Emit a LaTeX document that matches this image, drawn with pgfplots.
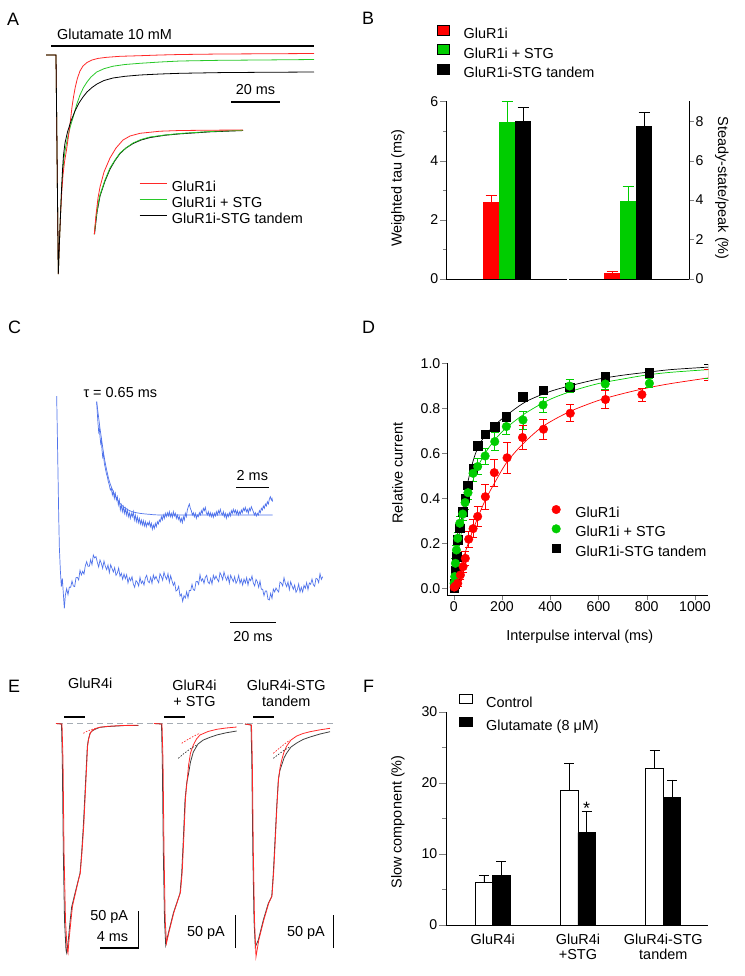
\documentclass[border=0pt]{standalone}
\usepackage{fontspec}
\setmainfont{Liberation Sans}
\usepackage{pgfplots}
\pgfplotsset{compat=1.18}
\definecolor{bred}{RGB}{255,0,0}
\definecolor{bgreen}{RGB}{0,205,0}
\definecolor{tred}{RGB}{255,40,40}
\definecolor{tgreen}{RGB}{40,200,40}
\definecolor{cblue}{RGB}{80,115,235}
\definecolor{dgray}{RGB}{165,172,180}
\pgfplotsset{
  every axis/.append style={font=\fontsize{14.5}{16.5}\selectfont, scale only axis,
    /pgf/number format/assume math mode=true, /pgf/number format/1000 sep={}},
  tick label style={font=\fontsize{14.2}{16}\selectfont, inner sep=1.5bp},
  trace/.style={axis lines=none, clip=false, y dir=reverse, xtick=\empty, ytick=\empty},
  leg/.style={legend style={draw=none, fill=none, inner sep=0pt, legend cell align=left,
    nodes={inner sep=1bp, text height=10bp, text depth=3bp}, font=\fontsize{14.5}{16.5}\selectfont}},
}
\begin{document}
\begin{tikzpicture}
\path[use as bounding box] (0,0) rectangle (745bp,-976bp);
% panel letters
\begin{scope}[every node/.style={font=\fontsize{18}{20}\selectfont, anchor=base west, inner sep=0pt}]
\node at (7bp,-25bp) {A};
\node at (362bp,-24bp) {B};
\node at (8bp,-333.5bp) {C};
\node at (362bp,-333.5bp) {D};
\node at (8bp,-692bp) {E};
\node at (363bp,-692bp) {F};
\end{scope}

% ================= A =================
\begin{axis}[trace, leg, at={(0bp,-300bp)}, anchor=south west, width=340bp, height=300bp,
  xmin=0, xmax=340, ymin=0, ymax=300,
  legend style={at={(axis cs:139,180.5)}, anchor=north west, row sep=1bp, column sep=4bp},
  legend image code/.code={\draw[#1] (0bp,4.5bp) -- (27bp,4.5bp);}]
\addlegendimage{tred, line width=0.8bp}\addlegendentry{GluR1i}
\addlegendimage{tgreen, line width=0.8bp}\addlegendentry{GluR1i + STG}
\addlegendimage{black, line width=0.8bp}\addlegendentry{GluR1i-STG tandem}
\addplot[forget plot, tgreen, line width=0.8bp] coordinates {(46,55) (56,55) (58.3,274) (59.5,240) (60.5,215) (61.5,192) (62.7,172) (64,158) (65.5,148) (68,136) (70.5,126) (73.3,116.7) (76.7,104.5) (80,95) (83.5,87.5) (87,82) (91,77) (96.7,72) (104,68.7) (113,66.2) (125,64.5) (140,63.3) (160,62) (180,61) (220,60.3) (260,60) (314,59.5)};
\addplot[forget plot, tred, line width=0.8bp] coordinates {(46,55) (56,55) (58.3,274) (59.5,240) (60.5,215) (61.7,193) (63,175) (64.5,162) (66.5,150) (68.5,136) (70.5,120) (72,107) (73.5,97) (75.3,87) (77.5,78) (80,71) (83,66) (87,62.5) (92,60) (98,58.4) (106.7,57.3) (120,56.3) (140,55.7) (160,55) (180,54.5) (220,54) (260,53.8) (314,53.5)};
\addplot[forget plot, black, line width=0.8bp] coordinates {(46,55) (56,55) (58.3,274) (59.5,240) (60.5,215) (61.5,190) (62.5,170) (63.5,155) (65,143) (67.5,132) (71,121) (75,111) (79,103) (83,97) (87,92) (92,87.5) (97,84) (104,80.5) (113,78) (125,76.3) (140,75) (160,74) (180,73.3) (220,72.6) (260,72.3) (314,72)};
% normalized inset
\addplot[forget plot, black, line width=0.9bp] coordinates {(94.5,234) (97,212) (100,196) (105,181) (110,169) (115,160.5) (120,153.5) (126,148) (133,143.5) (141,140) (150,137.5) (165,135.2) (180,133.8) (210,131.8) (243,130.5)};
\addplot[forget plot, tgreen, line width=0.8bp] coordinates {(94.3,234.3) (96,218) (98,205) (100,195) (105,180) (110,168) (115,160) (120,153) (126,148) (133,143) (141,139.5) (150,137) (165,135) (180,133.5) (210,131.5) (243,130.3)};
\addplot[forget plot, tred, line width=0.8bp] coordinates {(94.3,234.3) (96,215) (98,198) (100,187) (104,172) (110,158) (116,148) (123,140) (130,136) (140,133.3) (160,131.2) (180,130.5) (210,130.2) (243,130)};
\draw[line width=2bp] (axis cs:51,46) -- (axis cs:314,46);
\node[anchor=base west, inner sep=0pt] at (axis cs:57,39) {Glutamate 10 mM};
\draw[line width=1.5bp] (axis cs:231,102) -- (axis cs:280,102);
\node[anchor=base, inner sep=0pt] at (axis cs:255.5,94) {20 ms};
\end{axis}

% ================= B (left) =================
\begin{axis}[leg, at={(446bp,-279bp)}, anchor=south west, width=121bp, height=177.6bp,
  xmin=-61, xmax=60, ymin=0, ymax=6, axis x line*=bottom, axis y line*=left,
  xtick=\empty, ytick={0,2,4,6}, minor ytick={1,3,5}, tick align=outside,
  major tick length=6bp, minor tick length=3bp,
  ybar, bar width=16bp,
  ylabel={Weighted tau (ms)}, ylabel style={at={(axis description cs:-0.397,0.512)}, anchor=center},
  legend style={at={(-0.074,1.43)}, anchor=north west, row sep=1.5bp, column sep=13bp},
  legend image code/.code={\fill[#1] (0bp,0bp) rectangle (12bp,10bp);}]
\addlegendimage{fill=bred}\addlegendentry{GluR1i}
\addlegendimage{fill=bgreen}\addlegendentry{GluR1i + STG}
\addlegendimage{fill=black}\addlegendentry{GluR1i-STG tandem}
\addplot[forget plot, fill=bred, draw=none, bar shift=-16bp, error bars/.cd, y dir=plus, y explicit,
  error bar style={bred, line width=0.8bp}, error mark options={rotate=90, bred, mark size=5.5bp, line width=0.8bp}]
  coordinates {(0,2.6) +- (0,0.22)};
\addplot[forget plot, fill=bgreen, draw=none, bar shift=0bp, error bars/.cd, y dir=plus, y explicit,
  error bar style={bgreen, line width=0.8bp}, error mark options={rotate=90, bgreen, mark size=5.5bp, line width=0.8bp}]
  coordinates {(0,5.3) +- (0,0.7)};
\addplot[forget plot, fill=black, draw=none, bar shift=16bp, error bars/.cd, y dir=plus, y explicit,
  error bar style={black, line width=0.8bp}, error mark options={rotate=90, black, mark size=5.5bp, line width=0.8bp}]
  coordinates {(0,5.35) +- (0,0.45)};
\end{axis}

% ================= B (right) =================
\begin{axis}[at={(569bp,-279bp)}, anchor=south west, width=120bp, height=177.6bp,
  xmin=-59, xmax=61, ymin=0, ymax=9, axis x line*=bottom, axis y line*=right,
  xtick=\empty, ytick={0,2,4,6,8}, tick align=outside, major tick length=5bp,
  ybar, bar width=16bp,
  ylabel={Steady-state/peak (\%)}, ylabel style={at={(axis description cs:1.273,0.512)}, anchor=center, rotate=180}]
\addplot[fill=bred, draw=none, bar shift=-16bp, error bars/.cd, y dir=plus, y explicit,
  error bar style={bred, line width=0.8bp}, error mark options={rotate=90, bred, mark size=5.5bp, line width=0.8bp}]
  coordinates {(0,0.28) +- (0,0.13)};
\addplot[fill=bgreen, draw=none, bar shift=0bp, error bars/.cd, y dir=plus, y explicit,
  error bar style={bgreen, line width=0.8bp}, error mark options={rotate=90, bgreen, mark size=5.5bp, line width=0.8bp}]
  coordinates {(0,3.95) +- (0,0.72)};
\addplot[fill=black, draw=none, bar shift=16bp, error bars/.cd, y dir=plus, y explicit,
  error bar style={black, line width=0.8bp}, error mark options={rotate=90, black, mark size=5.5bp, line width=0.8bp}]
  coordinates {(0,7.75) +- (0,0.67)};
\end{axis}

% ================= C =================
\begin{axis}[trace, at={(0bp,-630bp)}, anchor=south west, width=370bp, height=330bp,
  xmin=0, xmax=1110, ymin=0, ymax=990]
\addplot[cblue, line width=0.7bp] coordinates {(170,288) (172,400) (174,520) (176,640) (178,740) (181,810) (184,860) (187,835) (190,880) (193,925) (196,886) (200,866) (204,884) (208,861) (212,862) (216,843) (220,858) (224,860) (228,833) (232,832) (236,840) (240,811) (244,825) (248,814) (252,822) (256,797) (260,785) (264,799) (268,799) (272,779) (276,794) (280,765) (284,774) (288,770) (292,787) (296,801) (300,780) (304,790) (308,805) (312,783) (316,799) (320,809) (324,795) (328,818) (332,794) (336,805) (340,816) (344,803) (348,826) (352,819) (356,804) (360,829) (364,820) (368,838) (372,822) (376,836) (380,824) (384,849) (388,833) (392,842) (396,830) (400,852) (404,862) (408,842) (412,847) (416,858) (420,832) (424,850) (428,843) (432,855) (436,834) (440,826) (444,844) (448,848) (452,832) (456,850) (460,825) (464,838) (468,829) (472,840) (476,848) (480,821) (484,829) (488,841) (492,817) (496,830) (500,838) (504,821) (508,847) (512,827) (516,842) (520,856) (524,847) (528,873) (532,870) (536,859) (540,888) (544,882) (548,904) (552,887) (556,894) (560,875) (564,893) (568,871) (572,872) (576,853) (580,869) (584,871) (588,845) (592,844) (596,853) (600,824) (604,843) (608,836) (612,850) (616,832) (620,826) (624,846) (628,851) (632,835) (636,852) (640,826) (644,838) (648,828) (652,838) (656,845) (660,818) (664,826) (668,839) (672,816) (676,831) (680,841) (684,827) (688,850) (692,826) (696,836) (700,845) (704,830) (708,850) (712,842) (716,826) (720,850) (724,838) (728,855) (732,837) (736,849) (740,833) (744,855) (748,836) (752,842) (756,828) (760,849) (764,858) (768,838) (772,845) (776,862) (780,843) (784,868) (788,868) (792,887) (796,873) (800,873) (804,898) (808,900) (812,880) (816,895) (820,867) (824,876) (828,864) (832,871) (836,876) (840,846) (844,849) (848,858) (852,833) (856,850) (860,860) (864,846) (868,869) (872,845) (876,857) (880,868) (884,855) (888,877) (892,869) (896,852) (900,876) (904,862) (908,876) (912,856) (916,865) (920,848) (924,869) (928,849) (932,853) (936,837) (940,854) (944,859) (948,835) (952,837) (956,848) (960,821) (964,838) (968,830)};
\addplot[cblue, line width=0.7bp] coordinates {(290,305) (292,340) (294,370) (296,395) (298,385) (300,410) (302,430) (304,420) (306,450) (308,470) (310,460) (313,490) (316,505) (319,520) (322,530) (325,545) (328,555) (331,570) (334,565) (337,585) (340,575) (343,595) (346,580) (349,600) (352,590) (355,615) (358,600) (361,630) (364,615) (367,635) (370,620) (373,640) (376,625) (379,645) (382,630) (385,650) (388,638) (391,655) (394,640) (397,650) (400,635) (403,660) (406,645) (409,665) (412,650) (415,668) (418,655) (421,672) (424,660) (427,675) (430,662) (433,678) (436,665) (439,680) (442,668) (445,675) (448,665) (451,680) (454,670) (457,688) (460,675) (463,685) (466,670) (469,680) (472,665) (475,672) (478,660) (481,665) (484,650) (487,660) (490,645) (493,655) (496,640) (499,650) (502,638) (505,648) (508,635) (511,650) (514,640) (517,652) (520,635) (523,648) (526,640) (529,655) (532,645) (535,658) (538,650) (541,665) (544,655) (547,668) (550,650) (553,660) (556,640) (559,650) (562,630) (565,620) (568,612) (571,625) (574,632) (577,645) (580,638) (583,650) (586,640) (589,655) (592,645) (595,650) (598,638) (601,645) (604,632) (607,640) (610,625) (613,632) (616,622) (619,638) (622,645) (625,635) (628,648) (631,638) (634,650) (637,640) (640,652) (643,640) (646,648) (649,635) (652,645) (655,632) (658,640) (661,628) (664,640) (667,645) (670,635) (673,650) (676,640) (679,655) (682,642) (685,650) (688,638) (691,648) (694,632) (697,640) (700,628) (703,638) (706,630) (709,642) (712,632) (715,645) (718,635) (721,642) (724,630) (727,638) (730,625) (733,632) (736,622) (739,635) (742,628) (745,640) (748,625) (751,632) (754,620) (757,628) (760,635) (763,645) (766,638) (769,648) (772,640) (775,645) (778,632) (781,638) (784,625) (787,630) (790,618) (793,625) (796,612) (799,618) (802,605) (805,612) (808,598) (811,590) (814,600) (816,595) (818,605)};
\addplot[cblue, line width=0.7bp, smooth] coordinates {(290,305) (295,345) (300,385) (305,420) (310,455) (315,485) (320,510) (325,532) (330,550) (340,575) (350,595) (360,610) (370,620) (385,630) (400,636) (420,640) (450,643) (500,645) (818,645)};
\node[anchor=base west, inner sep=0pt] at (axis cs:250,293) {τ = 0.65 ms};
\draw[line width=1.5bp] (axis cs:708,562) -- (axis cs:808,562);
\node[anchor=base, inner sep=0pt] at (axis cs:757,540) {2 ms};
\draw[line width=1.5bp] (axis cs:690,968) -- (axis cs:828,968);
\node[anchor=base, inner sep=0pt] at (axis cs:759,1023) {20 ms};
\end{axis}

% ================= D =================
\begin{axis}[leg, at={(447bp,-595bp)}, anchor=south west, width=261bp, height=231.7bp,
  xmin=-28, xmax=1054, ymin=-0.03, ymax=1.0, axis x line*=bottom, axis y line*=left,
  tick align=outside, major tick length=5bp,
  xtick={0,200,...,1000}, ytick={0,0.2,0.4,0.6,0.8,1.0},
  yticklabel style={/pgf/number format/.cd, fixed, fixed zerofill, precision=1},
  xlabel={Interpulse interval (ms)}, xlabel style={at={(axis description cs:0.509,-0.181)}, anchor=center},
  ylabel={Relative current}, ylabel style={at={(axis description cs:-0.19,0.527)}, anchor=center},
  legend style={at={(axis cs:406,0.37)}, anchor=north west, row sep=3bp, column sep=14bp},
  legend image code/.code={\draw[#1] plot coordinates {(4.3bp,4.5bp)};}]
\addlegendimage{mark=*, mark size=4.3bp, mark options={draw=bred, fill=bred}}\addlegendentry{GluR1i}
\addlegendimage{mark=*, mark size=4.3bp, mark options={draw=bgreen, fill=bgreen}}\addlegendentry{GluR1i + STG}
\addlegendimage{mark=square*, mark size=4.3bp, mark options={draw=black, fill=black}}\addlegendentry{GluR1i-STG tandem}
% fits
\addplot[forget plot, black, line width=0.7bp, smooth] coordinates {(0,0) (10,0.12) (20,0.22) (40,0.37) (60,0.48) (80,0.565) (100,0.625) (130,0.68) (170,0.725) (220,0.77) (300,0.83) (400,0.875) (500,0.905) (600,0.93) (700,0.947) (800,0.96) (900,0.972) (1055,0.983)};
\addplot[forget plot, bgreen, line width=0.7bp, smooth] coordinates {(0,0) (10,0.09) (20,0.17) (40,0.3) (60,0.40) (80,0.48) (100,0.54) (130,0.6) (170,0.66) (220,0.715) (300,0.78) (400,0.84) (500,0.88) (600,0.91) (700,0.93) (800,0.948) (900,0.96) (1055,0.972)};
\addplot[forget plot, bred, line width=0.7bp, smooth] coordinates {(0,0) (20,0.07) (40,0.135) (60,0.2) (80,0.26) (100,0.315) (130,0.39) (170,0.47) (220,0.56) (285,0.64) (370,0.72) (480,0.785) (600,0.835) (700,0.865) (800,0.89) (900,0.91) (1055,0.935)};
% points
\addplot[forget plot, only marks, mark=square*, mark size=4.3bp, mark options={draw=black, fill=black},
  error bars/.cd, y dir=both, y explicit, error bar style={black, line width=0.7bp}, error mark options={rotate=90, black, mark size=4bp, line width=0.7bp}]
  table[y error index=2] {
1 0.0 0.01
3 0.02 0.01
7 0.08 0.015
11 0.14 0.015
16.5 0.215 0.015
25 0.267 0.015
37 0.341 0.015
47 0.40 0.015
59 0.459 0.015
80 0.529 0.02
99 0.633 0.015
130 0.684 0.015
170 0.719 0.015
218 0.763 0.015
287 0.852 0.015
370 0.881 0.012
480 0.893 0.015
628 0.94 0.012
811 0.959 0.01
1055 0.985 0.01
};
\addplot[forget plot, only marks, mark=*, mark size=4.3bp, mark options={draw=bgreen, fill=bgreen},
  error bars/.cd, y dir=both, y explicit, error bar style={bgreen, line width=0.7bp}, error mark options={rotate=90, bgreen, mark size=4bp, line width=0.7bp}]
  table[y error index=2] {
1.4 0.022 0.01
4 0.052 0.015
7 0.111 0.02
11 0.17 0.02
16.5 0.222 0.025
25 0.289 0.03
37 0.33 0.03
47 0.381 0.03
59 0.425 0.03
80 0.511 0.035
99 0.541 0.035
130 0.588 0.035
170 0.652 0.04
218 0.719 0.035
287 0.748 0.04
370 0.815 0.035
480 0.899 0.03
628 0.908 0.025
811 0.911 0.02
1055 0.953 0.02
};
\addplot[forget plot, only marks, mark=*, mark size=4.3bp, mark options={draw=bred, fill=bred},
  error bars/.cd, y dir=both, y explicit, error bar style={bred, line width=0.7bp}, error mark options={rotate=90, bred, mark size=4bp, line width=0.7bp}]
  table[y error index=2] {
2 0.005 0.01
7 0.01 0.012
16.5 0.022 0.015
27.6 0.059 0.02
38.6 0.096 0.025
48 0.133 0.03
62 0.218 0.035
80 0.265 0.04
99 0.319 0.045
131 0.407 0.055
168 0.514 0.06
221 0.580 0.068
285 0.670 0.052
372 0.707 0.045
483 0.778 0.038
629 0.839 0.04
780 0.861 0.028
1055 0.950 0.025
};
\end{axis}

% ================= E =================
\begin{axis}[trace, at={(0bp,-976bp)}, anchor=south west, width=370bp, height=336bp,
  xmin=0, xmax=370, ymin=640, ymax=976]
\addplot[dgray, line width=0.8bp, dash pattern=on 6bp off 4bp] coordinates {(57,723.3) (333,723.3)};
% trace 1
\addplot[black!75, line width=0.8bp] coordinates {(56,723.5) (61.5,724) (62.3,760) (63.3,850) (64.5,920) (66,950) (66.7,953) (68.3,940) (70,922) (71.7,906.7) (75,893.3) (78.3,880) (80,873.3) (81.5,855) (83.3,826.7) (86,773.3) (87.3,746.7) (88.3,740) (90,733.3) (92,731) (95,729.3) (100,727.3) (108,726.5) (116.7,726) (125,725.5) (138.3,725.5)};
\addplot[tred, line width=0.8bp] coordinates {(56,723.5) (62,724) (63,760) (64,850) (65.5,920) (67,948) (68,953) (69,940) (71,920) (72.5,906) (75.5,893) (78.5,880) (80.3,873) (82,852) (83.8,825) (86.3,773) (87.6,746) (88.6,739) (90.5,732.5) (93,730) (96,728.3) (100,727.2) (108,726.3) (116.7,725.8) (125,725.4) (138.3,725.3)};
\addplot[tred, line width=0.7bp, dash pattern=on 1.5bp off 1.5bp] coordinates {(83.3,733.3) (87,731.3) (91,729.7) (95,728.5)};
% trace 2
\addplot[black!75, line width=0.8bp] coordinates {(154,723.5) (161.5,724) (162.3,760) (163.3,850) (164.5,920) (165.7,945) (168.3,933.3) (173.3,913.3) (180,893.3) (181.7,873.3) (183.3,840) (185,800) (186.7,783) (188.3,775) (190.5,762) (193.3,752) (198,744) (203.3,740) (210,737.3) (216.7,735) (226,732.8) (236.7,731)};
\addplot[tred, line width=0.8bp] coordinates {(154,723.5) (162,724) (163,760) (164,850) (165.2,920) (166.5,943) (169,932) (174,912) (180.5,892) (182.2,872) (183.8,838) (185.5,798) (187,782) (188.6,765) (190.5,753) (193.3,745) (196.5,739) (200,735) (208,731.5) (216.7,729.3) (226,728) (236.7,727)};
\addplot[tred, line width=0.7bp, dash pattern=on 1.5bp off 1.5bp] coordinates {(181.7,743.3) (187,740) (193.5,736.3) (200,733)};
\addplot[black!80, line width=0.7bp, dash pattern=on 1.5bp off 1.5bp] coordinates {(178.3,758.3) (184,753.5) (190,749) (196.7,745)};
% trace 3
\addplot[black!75, line width=0.8bp] coordinates {(245,724) (251,725) (251.8,760) (252.8,850) (254,920) (255.3,947) (258.3,940) (263.3,920) (268.3,903.3) (271.7,896.7) (273.3,873.3) (275,840) (276.7,806.7) (278.3,780) (280,770) (281.7,765) (284,758) (286.7,753) (291,747) (296.7,743) (303,739.5) (310,737) (320,734) (330,731.7)};
\addplot[tred, line width=0.8bp] coordinates {(245,724) (251.5,725) (252.3,760) (253.3,850) (254.5,920) (256,956.7) (258.8,940) (263.8,920) (268.8,903) (272,896) (273.7,872) (275.4,838) (277,805) (278.6,778) (280.3,766) (282,759) (284,752) (286.7,746) (291,740) (296.7,736) (303,733.5) (310,731.7) (320,729.8) (330,728.3)};
\addplot[tred, line width=0.7bp, dash pattern=on 1.5bp off 1.5bp] coordinates {(273.3,753.3) (279,748.5) (284.5,744) (290,740)};
\addplot[black!80, line width=0.7bp, dash pattern=on 1.5bp off 1.5bp] coordinates {(273.3,758.3) (279,754) (284.5,750) (290,746.7)};
% application bars
\draw[line width=2bp] (axis cs:64,716.7) -- (axis cs:85,716.7);
\draw[line width=2bp] (axis cs:164,716.7) -- (axis cs:185,716.7);
\draw[line width=2bp] (axis cs:253,716.7) -- (axis cs:274,716.7);
% labels
\node[anchor=base west, inner sep=0pt] at (axis cs:68,688.3) {GluR4i};
\node[anchor=base, inner sep=0pt] at (axis cs:194.5,690) {GluR4i};
\node[anchor=base, inner sep=0pt] at (axis cs:194.5,706.5) {+ STG};
\node[anchor=base, inner sep=0pt] at (axis cs:286.3,690) {GluR4i-STG};
\node[anchor=base, inner sep=0pt] at (axis cs:286.3,706.5) {tandem};
% scale bars
\draw[line width=1.5bp] (axis cs:100,948) -- (axis cs:138.3,948) -- (axis cs:138.3,911);
\node[anchor=base east, inner sep=0pt] at (axis cs:128.3,920.7) {50 pA};
\node[anchor=base east, inner sep=0pt] at (axis cs:128.3,941.7) {4 ms};
\draw[line width=1.5bp] (axis cs:235.7,948) -- (axis cs:235.7,915);
\node[anchor=base east, inner sep=0pt] at (axis cs:225,936.7) {50 pA};
\draw[line width=1.5bp] (axis cs:333.3,948) -- (axis cs:333.3,915);
\node[anchor=base east, inner sep=0pt] at (axis cs:325,936.7) {50 pA};
\end{axis}

% ================= F =================
\begin{axis}[leg, at={(446bp,-925bp)}, anchor=south west, width=262bp, height=213.3bp,
  xmin=0.453, xmax=3.524, ymin=0, ymax=30, axis x line*=bottom, axis y line*=left,
  ybar, bar width=17.5bp,
  xtick={1,2,3}, xticklabels={GluR4i,{GluR4i\\+STG},{GluR4i-STG\\tandem}},
  xticklabel style={align=center, font=\fontsize{14.5}{15.5}\selectfont},
  major x tick style={draw=none},
  ytick={0,10,20,30}, minor ytick={5,15,25}, tick align=outside,
  major tick length=7bp, minor tick length=4bp,
  ylabel={Slow component (\%)}, ylabel style={at={(axis description cs:-0.184,0.483)}, anchor=center},
  legend style={at={(0.05,1.085)}, anchor=north west, row sep=6bp, column sep=12bp},
  legend image code/.code={\draw[#1] (0bp,0.5bp) rectangle (13bp,9.5bp);}]
\addlegendimage{fill=white, draw=black, line width=0.8bp}\addlegendentry{Control}
\addlegendimage{fill=black, draw=black, line width=0.8bp}\addlegendentry{Glutamate (8 μM)}
\addplot[forget plot, fill=white, draw=black, line width=0.8bp, bar shift=-8.75bp, error bars/.cd, y dir=plus, y explicit,
  error bar style={black, line width=0.8bp}, error mark options={rotate=90, black, mark size=5bp, line width=0.8bp}]
  coordinates {(1,6) +- (0,1.0) (2,19) +- (0,3.8) (3,22) +- (0,2.6)};
\addplot[forget plot, fill=black, draw=black, line width=0.8bp, bar shift=8.75bp, error bars/.cd, y dir=plus, y explicit,
  error bar style={black, line width=0.8bp}, error mark options={rotate=90, black, mark size=5bp, line width=0.8bp}]
  coordinates {(1,7) +- (0,1.9) (2,13) +- (0,3.0) (3,18) +- (0,2.4)};
\node[anchor=base, inner sep=0pt, xshift=8.75bp, font=\fontsize{18}{20}\selectfont] at (axis cs:2,15.6) {*};
\end{axis}
\end{tikzpicture}
\end{document}
